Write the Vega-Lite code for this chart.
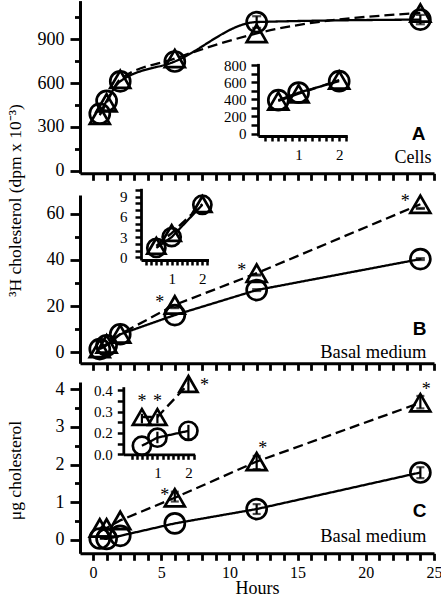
{
  "$schema": "https://vega.github.io/schema/vega-lite/v6.json",
  "width": 441,
  "height": 603,
  "autosize": {"type": "none"},
  "padding": 0,
  "config": {"view": {"stroke": null}},
  "datasets": {
    "A": [
      {"h": 0.5, "s": "c", "v": 390}, {"h": 1, "s": "c", "v": 478}, {"h": 2, "s": "c", "v": 612},
      {"h": 6, "s": "c", "v": 748}, {"h": 12, "s": "c", "v": 1018, "lo": 978, "hi": 1058},
      {"h": 24, "s": "c", "v": 1035, "lo": 1003, "hi": 1067},
      {"h": 0.5, "s": "t", "v": 380}, {"h": 1, "s": "t", "v": 465}, {"h": 2, "s": "t", "v": 626},
      {"h": 6, "s": "t", "v": 768}, {"h": 12, "s": "t", "v": 940}, {"h": 24, "s": "t", "v": 1080}
    ],
    "B": [
      {"h": 0.5, "s": "c", "v": 1.4}, {"h": 1, "s": "c", "v": 3.0}, {"h": 2, "s": "c", "v": 7.8},
      {"h": 6, "s": "c", "v": 16.1}, {"h": 12, "s": "c", "v": 26.9, "lo": 26.5, "hi": 27.3},
      {"h": 24, "s": "c", "v": 40.3, "lo": 39.9, "hi": 40.7},
      {"h": 0.5, "s": "t", "v": 1.7}, {"h": 1, "s": "t", "v": 3.6}, {"h": 2, "s": "t", "v": 7.9},
      {"h": 6, "s": "t", "v": 20.5, "lo": 19.1, "hi": 19.5, "sig": true},
      {"h": 12, "s": "t", "v": 34.2, "lo": 33.2, "hi": 33.6, "sig": true},
      {"h": 24, "s": "t", "v": 64.0, "lo": 62.0, "hi": 62.4, "sig": true}
    ],
    "C": [
      {"h": 0.5, "s": "c", "v": 0.04}, {"h": 1, "s": "c", "v": 0.03}, {"h": 2, "s": "c", "v": 0.11},
      {"h": 6, "s": "c", "v": 0.44}, {"h": 12, "s": "c", "v": 0.82, "lo": 0.69, "hi": 0.95},
      {"h": 24, "s": "c", "v": 1.79, "lo": 1.64, "hi": 1.93},
      {"h": 0.5, "s": "t", "v": 0.32}, {"h": 1, "s": "t", "v": 0.32}, {"h": 2, "s": "t", "v": 0.52},
      {"h": 6, "s": "t", "v": 1.12, "lo": 1.02, "hi": 1.28, "sig": true},
      {"h": 12, "s": "t", "v": 2.08, "lo": 1.88, "hi": 2.23, "sig": true},
      {"h": 24, "s": "t", "v": 3.64, "lo": 3.49, "hi": 3.82, "sig": true}
    ],
    "Ci": [
      {"h": 0.5, "s": "c", "v": 0.14}, {"h": 1, "s": "c", "v": 0.178, "lo": 0.152, "hi": 0.206},
      {"h": 2, "s": "c", "v": 0.21, "lo": 0.167, "hi": 0.238},
      {"h": 0.5, "s": "t", "v": 0.275, "lo": 0.245, "hi": 0.29, "sig": true},
      {"h": 1, "s": "t", "v": 0.275, "lo": 0.245, "hi": 0.29, "sig": true},
      {"h": 2, "s": "t", "v": 0.43, "lo": 0.394, "hi": 0.457, "sig": true}
    ]
  },
  "resolve": {"scale": {"x": "independent", "y": "independent"}, "axis": {"x": "independent", "y": "independent"}},
  "layer": [
    {
      "data": {"name": "A"},
      "encoding": {
        "x": {"field": "h", "type": "quantitative",
          "scale": {"domain": [-0.95, 25], "range": [80, 434], "nice": false, "zero": false},
          "axis": {"orient": "bottom", "offset": -429.7, "values": [0,1,2,3,4,5,6,7,8,9,10,11,12,13,14,15,16,17,18,19,20,21,22,23,24,25], "labels": false,
            "tickSize": 7, "domainColor": "black", "domainWidth": 3, "tickColor": "black", "tickWidth": 2.8, "grid": false,
            "title": "Cells", "titleFont": "Liberation Serif", "titleFontSize": 18, "titleFontWeight": "normal", "titleColor": "black",
            "titleX": 431, "titleY": -16, "titleAngle": 0, "titleAlign": "right", "titleBaseline": "middle"}},
        "y": {"field": "v", "type": "quantitative",
          "scale": {"domain": [-18, 1165], "range": [173.3, 0.6], "nice": false, "zero": false},
          "axis": {"orient": "left", "offset": -80, "values": [0,300,600,900], "tickSize": 10, "labelPadding": 6,
            "domainColor": "black", "domainWidth": 3, "tickColor": "black", "tickWidth": 2.8, "grid": false,
            "labelFont": "Liberation Serif", "labelFontSize": 18, "labelColor": "black", "labelOverlap": false, "labelFlush": false,
            "title": "³H cholesterol (dpm x 10⁻³)", "titleFont": "Liberation Serif", "titleFontSize": 17.5, "titleFontWeight": "normal", "titleColor": "black",
            "titleX": -65, "titleY": 200, "titleAngle": 270, "titleAlign": "center", "titleBaseline": "middle"}}
      },
      "layer": [
        {"mark": {"type": "line", "interpolate": "monotone", "stroke": "black", "strokeWidth": 2.3},
         "encoding": {"strokeDash": {"field": "s", "type": "nominal", "scale": {"domain": ["c", "t"], "range": [[1, 0], [10, 5]]}, "legend": null}}},
        {"mark": {"type": "point", "filled": false, "stroke": "black", "strokeWidth": 2.7, "size": 400, "opacity": 1},
         "encoding": {"shape": {"field": "s", "type": "nominal", "scale": {"domain": ["c", "t"], "range": ["circle", "triangle-up"]}, "legend": null}}},
        {"transform": [{"filter": "isValid(datum.lo)"}], "mark": {"type": "rule", "stroke": "black", "strokeWidth": 2.2},
         "encoding": {"y": {"field": "lo", "type": "quantitative"}, "y2": {"field": "hi"}}},
        {"transform": [{"filter": "isValid(datum.lo)"}], "mark": {"type": "tick", "orient": "horizontal", "color": "black", "size": 9, "thickness": 2.2},
         "encoding": {"y": {"field": "lo", "type": "quantitative"}}},
        {"transform": [{"filter": "isValid(datum.lo)"}], "mark": {"type": "tick", "orient": "horizontal", "color": "black", "size": 9, "thickness": 2.2},
         "encoding": {"y": {"field": "hi", "type": "quantitative"}}}
      ]
    },
    {
      "data": {"name": "A"},
      "mark": {"type": "point", "opacity": 0},
      "encoding": {
        "x": {"field": "h", "type": "quantitative", "scale": {"domain": [-0.95, 25], "range": [80, 434], "nice": false, "zero": false}, "axis": null},
        "y": {"field": "v", "type": "quantitative", "scale": {"domain": [-18, 1165], "range": [173.3, 0.6], "nice": false, "zero": false},
          "axis": {"orient": "left", "offset": -80, "values": [150, 450, 750, 1050], "labels": false, "domain": false, "tickSize": 5.5, "tickWidth": 2.8, "tickColor": "black", "grid": false, "title": null}}
      }
    },
    {
      "data": {"name": "A"},
      "transform": [{"filter": "datum.h <= 2"}],
      "encoding": {
        "x": {"field": "h", "type": "quantitative",
          "scale": {"domain": [0, 2.2], "range": [258, 347.3], "nice": false, "zero": false},
          "axis": {"orient": "bottom", "offset": -467, "values": [0.1667,0.3333,0.5,0.6667,0.8333,1,1.1667,1.3333,1.5,1.6667,1.8333,2,2.1667],
            "labelExpr": "(datum.value === 1 || datum.value === 2) ? format(datum.value, 'd') : ''", "tickSize": 5, "labelPadding": 6,
            "domainColor": "black", "domainWidth": 2.8, "tickColor": "black", "tickWidth": 2.5, "grid": false,
            "labelFont": "Liberation Serif", "labelFontSize": 15, "labelColor": "black", "labelOverlap": false, "labelFlush": false,
            "title": "A", "titleFont": "Liberation Sans", "titleFontSize": 19, "titleFontWeight": "bold", "titleColor": "black",
            "titleX": 418, "titleY": -3, "titleAngle": 0, "titleAlign": "center", "titleBaseline": "middle"}},
        "y": {"field": "v", "type": "quantitative",
          "scale": {"domain": [-29, 820], "range": [136, 63.4], "nice": false, "zero": false},
          "axis": {"orient": "left", "offset": -258, "values": [0,100,200,300,400,500,600,700,800],
            "labelExpr": "datum.value % 200 === 0 ? datum.label : ''", "tickSize": 7, "labelPadding": 5,
            "domainColor": "black", "domainWidth": 2.8, "tickColor": "black", "tickWidth": 2.5, "grid": false,
            "labelFont": "Liberation Serif", "labelFontSize": 15, "labelColor": "black", "labelOverlap": false, "labelFlush": false, "title": null}}
      },
      "layer": [
        {"mark": {"type": "line", "stroke": "black", "strokeWidth": 2.3},
         "encoding": {"strokeDash": {"field": "s", "type": "nominal", "scale": {"domain": ["c", "t"], "range": [[1, 0], [10, 5]]}, "legend": null}}},
        {"mark": {"type": "point", "filled": false, "stroke": "black", "strokeWidth": 2.7, "size": 400, "opacity": 1},
         "encoding": {"shape": {"field": "s", "type": "nominal", "scale": {"domain": ["c", "t"], "range": ["circle", "triangle-up"]}, "legend": null}}}
      ]
    },
    {
      "data": {"name": "B"},
      "encoding": {
        "x": {"field": "h", "type": "quantitative",
          "scale": {"domain": [-0.95, 25], "range": [80, 434], "nice": false, "zero": false},
          "axis": {"orient": "bottom", "offset": -239.7, "values": [0,1,2,3,4,5,6,7,8,9,10,11,12,13,14,15,16,17,18,19,20,21,22,23,24,25], "labels": false,
            "tickSize": 7, "domainColor": "black", "domainWidth": 3, "tickColor": "black", "tickWidth": 2.8, "grid": false,
            "title": "Basal medium", "titleFont": "Liberation Serif", "titleFontSize": 18.5, "titleFontWeight": "normal", "titleColor": "black",
            "titleX": 426, "titleY": -11.5, "titleAngle": 0, "titleAlign": "right", "titleBaseline": "middle"}},
        "y": {"field": "v", "type": "quantitative",
          "scale": {"domain": [-4.75, 68], "range": [363.3, 195], "nice": false, "zero": false},
          "axis": {"orient": "left", "offset": -80, "values": [0,20,40,60], "tickSize": 10, "labelPadding": 6,
            "domainColor": "black", "domainWidth": 3, "tickColor": "black", "tickWidth": 2.8, "grid": false,
            "labelFont": "Liberation Serif", "labelFontSize": 18, "labelColor": "black", "labelOverlap": false, "labelFlush": false, "title": null}}
      },
      "layer": [
        {"mark": {"type": "line", "stroke": "black", "strokeWidth": 2.3},
         "encoding": {"strokeDash": {"field": "s", "type": "nominal", "scale": {"domain": ["c", "t"], "range": [[1, 0], [10, 5]]}, "legend": null}}},
        {"mark": {"type": "point", "filled": false, "stroke": "black", "strokeWidth": 2.7, "size": 400, "opacity": 1},
         "encoding": {"shape": {"field": "s", "type": "nominal", "scale": {"domain": ["c", "t"], "range": ["circle", "triangle-up"]}, "legend": null}}},
        {"transform": [{"filter": "isValid(datum.lo)"}], "mark": {"type": "rule", "stroke": "black", "strokeWidth": 2.2},
         "encoding": {"y": {"field": "lo", "type": "quantitative"}, "y2": {"field": "hi"}}},
        {"transform": [{"filter": "isValid(datum.lo)"}], "mark": {"type": "tick", "orient": "horizontal", "color": "black", "size": 9, "thickness": 2.2},
         "encoding": {"y": {"field": "lo", "type": "quantitative"}}},
        {"transform": [{"filter": "isValid(datum.lo)"}], "mark": {"type": "tick", "orient": "horizontal", "color": "black", "size": 9, "thickness": 2.2},
         "encoding": {"y": {"field": "hi", "type": "quantitative"}}},
        {"transform": [{"filter": "datum.sig"}], "mark": {"type": "text", "text": "*", "font": "Liberation Serif", "fontSize": 18, "align": "center", "baseline": "alphabetic", "dx": -15, "dy": 3, "fill": "black"}}
      ]
    },
    {
      "data": {"name": "B"},
      "mark": {"type": "point", "opacity": 0},
      "encoding": {
        "x": {"field": "h", "type": "quantitative", "scale": {"domain": [-0.95, 25], "range": [80, 434], "nice": false, "zero": false}, "axis": null},
        "y": {"field": "v", "type": "quantitative", "scale": {"domain": [-4.75, 68], "range": [363.3, 195], "nice": false, "zero": false},
          "axis": {"orient": "left", "offset": -80, "values": [10, 30, 50], "labels": false, "domain": false, "tickSize": 5.5, "tickWidth": 2.8, "tickColor": "black", "grid": false, "title": null}}
      }
    },
    {
      "data": {"name": "B"},
      "transform": [{"filter": "datum.h <= 2"}],
      "encoding": {
        "x": {"field": "h", "type": "quantitative",
          "scale": {"domain": [0, 2.2], "range": [141, 208.5], "nice": false, "zero": false},
          "axis": {"orient": "bottom", "offset": -343, "values": [0.1667,0.3333,0.5,0.6667,0.8333,1,1.1667,1.3333,1.5,1.6667,1.8333,2,2.1667],
            "labelExpr": "(datum.value === 1 || datum.value === 2) ? format(datum.value, 'd') : ''", "tickSize": 5, "labelPadding": 6,
            "domainColor": "black", "domainWidth": 2.8, "tickColor": "black", "tickWidth": 2.5, "grid": false,
            "labelFont": "Liberation Serif", "labelFontSize": 15, "labelColor": "black", "labelOverlap": false, "labelFlush": false,
            "title": "B", "titleFont": "Liberation Sans", "titleFontSize": 19, "titleFontWeight": "bold", "titleColor": "black",
            "titleX": 419, "titleY": 68, "titleAngle": 0, "titleAlign": "center", "titleBaseline": "middle"}},
        "y": {"field": "v", "type": "quantitative",
          "scale": {"domain": [-0.4, 10.25], "range": [260, 188.3], "nice": false, "zero": false},
          "axis": {"orient": "left", "offset": -141, "values": [0,1,2,3,4,5,6,7,8,9,10],
            "labelExpr": "datum.value % 3 === 0 ? format(datum.value, 'd') : ''", "tickSize": 6, "labelPadding": 8,
            "domainColor": "black", "domainWidth": 2.8, "tickColor": "black", "tickWidth": 2.5, "grid": false,
            "labelFont": "Liberation Serif", "labelFontSize": 15, "labelColor": "black", "labelOverlap": false, "labelFlush": false, "title": null}}
      },
      "layer": [
        {"mark": {"type": "line", "stroke": "black", "strokeWidth": 2.3},
         "encoding": {"strokeDash": {"field": "s", "type": "nominal", "scale": {"domain": ["c", "t"], "range": [[1, 0], [10, 5]]}, "legend": null}}},
        {"mark": {"type": "point", "filled": false, "stroke": "black", "strokeWidth": 2.7, "size": 330, "opacity": 1},
         "encoding": {"shape": {"field": "s", "type": "nominal", "scale": {"domain": ["c", "t"], "range": ["circle", "triangle-up"]}, "legend": null}}}
      ]
    },
    {
      "data": {"name": "C"},
      "encoding": {
        "x": {"field": "h", "type": "quantitative",
          "scale": {"domain": [-0.95, 25], "range": [80, 434], "nice": false, "zero": false},
          "axis": {"orient": "bottom", "offset": -49.7, "values": [0,1,2,3,4,5,6,7,8,9,10,11,12,13,14,15,16,17,18,19,20,21,22,23,24,25],
            "labelExpr": "datum.value % 5 === 0 ? format(datum.value, 'd') : ''", "tickSize": 7, "labelPadding": 4,
            "domainColor": "black", "domainWidth": 3, "tickColor": "black", "tickWidth": 2.8, "grid": false,
            "labelFont": "Liberation Serif", "labelFontSize": 16, "labelColor": "black", "labelOverlap": false, "labelFlush": false,
            "title": "Hours", "titleFont": "Liberation Serif", "titleFontSize": 18, "titleFontWeight": "normal", "titleColor": "black",
            "titleX": 257, "titleY": 35, "titleAlign": "center", "titleBaseline": "middle"}},
        "y": {"field": "v", "type": "quantitative",
          "scale": {"domain": [-0.353, 4.19], "range": [553.3, 382], "nice": false, "zero": false},
          "axis": {"orient": "left", "offset": -80, "values": [0,1,2,3,4], "format": "d", "tickSize": 10, "labelPadding": 6,
            "domainColor": "black", "domainWidth": 3, "tickColor": "black", "tickWidth": 2.8, "grid": false,
            "labelFont": "Liberation Serif", "labelFontSize": 18, "labelColor": "black", "labelOverlap": false, "labelFlush": false,
            "title": "μg cholesterol", "titleFont": "Liberation Serif", "titleFontSize": 17.5, "titleFontWeight": "normal", "titleColor": "black",
            "titleX": -65, "titleY": 470, "titleAngle": 270, "titleAlign": "center", "titleBaseline": "middle"}}
      },
      "layer": [
        {"mark": {"type": "line", "stroke": "black", "strokeWidth": 2.3},
         "encoding": {"strokeDash": {"field": "s", "type": "nominal", "scale": {"domain": ["c", "t"], "range": [[1, 0], [10, 5]]}, "legend": null}}},
        {"mark": {"type": "point", "filled": false, "stroke": "black", "strokeWidth": 2.7, "size": 400, "opacity": 1},
         "encoding": {"shape": {"field": "s", "type": "nominal", "scale": {"domain": ["c", "t"], "range": ["circle", "triangle-up"]}, "legend": null}}},
        {"transform": [{"filter": "isValid(datum.lo)"}], "mark": {"type": "rule", "stroke": "black", "strokeWidth": 2.2},
         "encoding": {"y": {"field": "lo", "type": "quantitative"}, "y2": {"field": "hi"}}},
        {"transform": [{"filter": "isValid(datum.lo)"}], "mark": {"type": "tick", "orient": "horizontal", "color": "black", "size": 8, "thickness": 2.2},
         "encoding": {"y": {"field": "lo", "type": "quantitative"}}},
        {"transform": [{"filter": "isValid(datum.lo)"}], "mark": {"type": "tick", "orient": "horizontal", "color": "black", "size": 8, "thickness": 2.2},
         "encoding": {"y": {"field": "hi", "type": "quantitative"}}},
        {"transform": [{"filter": "datum.sig && datum.h < 10"}], "mark": {"type": "text", "text": "*", "font": "Liberation Serif", "fontSize": 18, "align": "center", "baseline": "alphabetic", "dx": -10, "dy": 3, "fill": "black"}},
        {"transform": [{"filter": "datum.sig && datum.h > 10"}], "mark": {"type": "text", "text": "*", "font": "Liberation Serif", "fontSize": 18, "align": "center", "baseline": "alphabetic", "dx": 6, "dy": -8, "fill": "black"}}
      ]
    },
    {
      "data": {"name": "C"},
      "mark": {"type": "point", "opacity": 0},
      "encoding": {
        "x": {"field": "h", "type": "quantitative", "scale": {"domain": [-0.95, 25], "range": [80, 434], "nice": false, "zero": false}, "axis": null},
        "y": {"field": "v", "type": "quantitative", "scale": {"domain": [-0.353, 4.19], "range": [553.3, 382], "nice": false, "zero": false},
          "axis": {"orient": "left", "offset": -80, "values": [0.5, 1.5, 2.5, 3.5], "labels": false, "domain": false, "tickSize": 5.5, "tickWidth": 2.8, "tickColor": "black", "grid": false, "title": null}}
      }
    },
    {
      "data": {"name": "Ci"},
      "encoding": {
        "x": {"field": "h", "type": "quantitative",
          "scale": {"domain": [-0.1, 2.2], "range": [123.3, 194.6], "nice": false, "zero": false},
          "axis": {"orient": "bottom", "offset": -148.7, "values": [0.1667,0.3333,0.5,0.6667,0.8333,1,1.1667,1.3333,1.5,1.6667,1.8333,2,2.1667],
            "labelExpr": "(datum.value === 1 || datum.value === 2) ? format(datum.value, 'd') : ''", "tickSize": 5, "labelPadding": 6,
            "domainColor": "black", "domainWidth": 2.8, "tickColor": "black", "tickWidth": 2.5, "grid": false,
            "labelFont": "Liberation Serif", "labelFontSize": 15, "labelColor": "black", "labelOverlap": false, "labelFlush": false,
            "title": "C", "titleFont": "Liberation Sans", "titleFontSize": 19, "titleFontWeight": "bold", "titleColor": "black",
            "titleX": 419, "titleY": 55.7, "titleAngle": 0, "titleAlign": "center", "titleBaseline": "middle"}},
        "y": {"field": "v", "type": "quantitative",
          "scale": {"domain": [0.1, 0.417], "range": [454.3, 386.7], "nice": false, "zero": false},
          "axis": {"orient": "left", "offset": -123.3, "values": [0.1,0.15,0.2,0.25,0.3,0.35,0.4],
            "labelExpr": "abs(datum.value * 10 - round(datum.value * 10)) < 0.001 ? (datum.value < 0.15 ? '0.0' : format(datum.value, '.1f')) : ''",
            "tickSize": 6, "labelPadding": 5,
            "domainColor": "black", "domainWidth": 2.8, "tickColor": "black", "tickWidth": 2.5, "grid": false,
            "labelFont": "Liberation Serif", "labelFontSize": 15, "labelColor": "black", "labelOverlap": false, "labelFlush": false,
            "title": "Basal medium", "titleFont": "Liberation Serif", "titleFontSize": 18.5, "titleFontWeight": "normal", "titleColor": "black",
            "titleX": 302.7, "titleY": 535, "titleAngle": 0, "titleAlign": "right", "titleBaseline": "middle"}}
      },
      "layer": [
        {"mark": {"type": "line", "stroke": "black", "strokeWidth": 2.3},
         "encoding": {"strokeDash": {"field": "s", "type": "nominal", "scale": {"domain": ["c", "t"], "range": [[1, 0], [10, 5]]}, "legend": null}}},
        {"mark": {"type": "point", "filled": false, "stroke": "black", "strokeWidth": 2.7, "size": 330, "opacity": 1},
         "encoding": {"shape": {"field": "s", "type": "nominal", "scale": {"domain": ["c", "t"], "range": ["circle", "triangle-up"]}, "legend": null}}},
        {"transform": [{"filter": "isValid(datum.lo)"}], "mark": {"type": "rule", "stroke": "black", "strokeWidth": 2.2},
         "encoding": {"y": {"field": "lo", "type": "quantitative"}, "y2": {"field": "hi"}}},
        {"transform": [{"filter": "datum.sig && datum.h < 1.5"}], "mark": {"type": "text", "text": "*", "font": "Liberation Serif", "fontSize": 18, "align": "center", "baseline": "alphabetic", "dx": 0, "dy": -10, "fill": "black"}},
        {"transform": [{"filter": "datum.sig && datum.h > 1.5"}], "mark": {"type": "text", "text": "*", "font": "Liberation Serif", "fontSize": 18, "align": "center", "baseline": "alphabetic", "dx": 16, "dy": 7, "fill": "black"}}
      ]
    }
  ]
}
